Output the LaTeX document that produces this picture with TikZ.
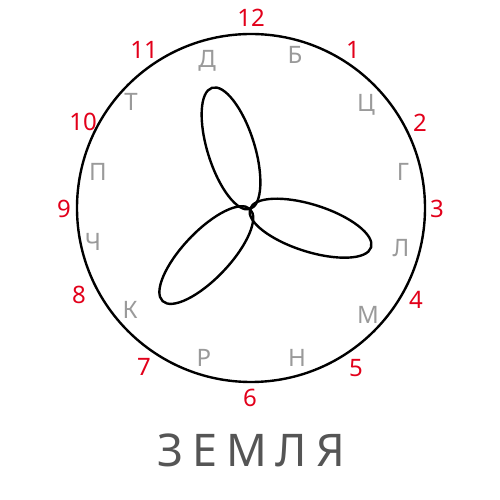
\documentclass[tikz,border=0pt]{standalone}
\usepackage{fontspec}
\setmainfont[Script=Cyrillic,Language=Bulgarian]{Noto Sans}
\usepackage{tikz}
\usetikzlibrary{positioning}
\definecolor{hourred}{HTML}{E2001A}
\definecolor{lettergray}{HTML}{9A9A9A}
\definecolor{titlegray}{HTML}{555555}
\tikzstyle{petal} = [line width=2.4pt]
\tikzstyle{rim} = [line width=2.4pt]

\begin{document}
\begin{tikzpicture}[
    x=1pt, y=1pt,
    every node/.style={inner sep=0pt, text height=17pt, text depth=0pt, anchor=center},
    hour/.style={text=hourred, font=\fontsize{24}{24}\selectfont},
    sign/.style={text=lettergray, font=\fontsize{24}{24}\selectfont},
    title/.style={text=titlegray, text height=32pt, font=\fontsize{45}{45}\selectfont\addfontfeature{LetterSpace=20}}
]
    \useasboundingbox (0,0) rectangle (500,500);

    % Dial
    \coordinate (centre) at (251,292);
    \coordinate (hub) at (250,291);
    \draw[rim] (centre) circle [radius=174pt];

    % Hours
    \foreach \t/\x/\y in {12/251/482, 1/353/450, 2/420/377, 3/437/291,
                          4/416/200, 5/356/132, 6/250/102, 7/144/133,
                          8/79/205, 9/64/291, 10/83/378, 11/144/450}
        \node[hour] (h\t) at (\x,\y) {\t};

    % Letters
    \foreach \n/\t/\x/\y in {b/Б/295/445, c/Ц/366/397, g/Г/403/328, l/Л/401/252,
                             m/М/368/185, n/Н/297/142, r/Р/204/142, k/К/130/190,
                             ch/Ч/93/258, p/П/98/328, t/Т/131/398, d/Д/207/441}
        \node[sign] (s\n) at (\x,\y) {\t};

    % Petals
    \foreach \a in {107.4, -17.6, 226.5}
        \draw[petal, shift={(hub)}, rotate=\a] (63.5,0) ellipse [x radius=63.5pt, y radius=23.5pt];

    % Title
    \node[title] (word) at (251,49) {ЗЕМЛЯ};
\end{tikzpicture}
\end{document}
